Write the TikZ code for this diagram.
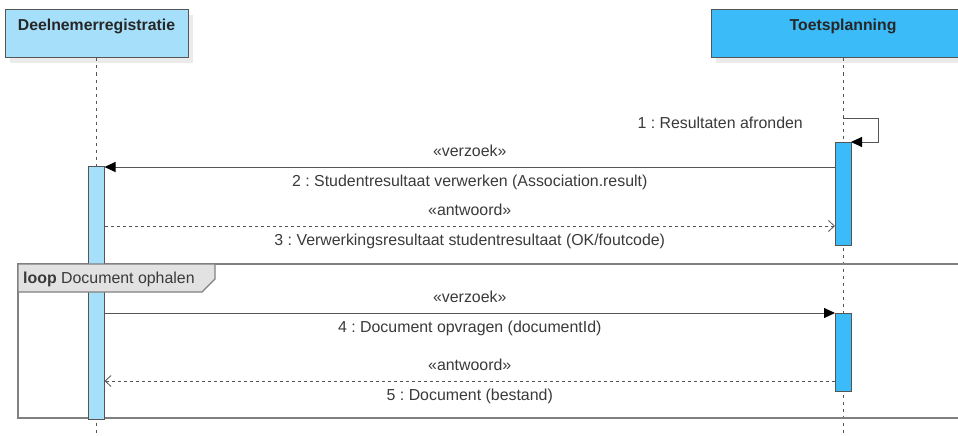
\documentclass[tikz,border=0pt]{standalone}
\usepackage{fontspec}
\setmainfont{Liberation Sans}
\usetikzlibrary{arrows.meta,positioning,shadows}
\definecolor{lichtblauw}{HTML}{A6DFFA}
\definecolor{blauw}{HTML}{3BBBF7}
\definecolor{lijngrijs}{HTML}{555555}
\definecolor{kadergrijs}{HTML}{808080}
\definecolor{tabgrijs}{HTML}{E2E2E2}
\definecolor{tekstgrijs}{HTML}{3A3A3A}
\frenchspacing
\begin{document}
\begin{tikzpicture}[x=1pt, y=-1pt,
        >=latex,   % default arrow tips
        font=\fontsize{15.9}{18}\selectfont\color{tekstgrijs},
        kop/.style={draw=lijngrijs, line width=1pt, minimum width=183pt, inner xsep=0pt, inner ysep=5pt,
            text height=15.5pt, text depth=22.5pt, font=\fontsize{15.8}{18}\selectfont\bfseries\color{black!85},
            drop shadow={shadow xshift=5pt, shadow yshift=-5pt, fill=black!8, opacity=1}},
        levenslijn/.style={draw=lijngrijs, line width=0.8pt, dash pattern=on 3pt off 4pt},
        activatie/.style={draw=lijngrijs, line width=0.8pt, minimum width=16pt, inner sep=0pt, outer sep=0pt},
        verzoek/.style={draw=lijngrijs, line width=1pt, -{Triangle[length=11pt, width=10pt, color=black]}},
        antwoord/.style={draw=lijngrijs, line width=0.8pt, dash pattern=on 3pt off 3pt,
            -{Straight Barb[length=6pt, width=11pt, line width=0.8pt]}},
        boven/.style={midway, anchor=base, inner sep=0pt, yshift=11pt},
        onder/.style={midway, anchor=base, inner sep=0pt, yshift=-19pt},
        kader/.style={draw=kadergrijs, line width=1.5pt}]
    \useasboundingbox (0,0) rectangle (958,436);
    % Deelnemers
    \node[kop, fill=lichtblauw] (dr) at (96.5,34) {Deelnemerregistratie};
    \node[kop, fill=blauw, minimum width=264pt] (tp) at (843,34) {Toetsplanning};
    % Levenslijnen
    \coordinate (drEinde) at (96.5,436);
    \coordinate (tpEinde) at (843,436);
    \draw[levenslijn] (dr.south) -- (drEinde);
    \draw[levenslijn] (tp.south) -- (tpEinde);
    % Loop-kader
    \draw[kader] (18,264) rectangle (975,418);
    % Activaties
    \node[activatie, fill=lichtblauw, minimum height=253pt] (actDR) at (96.5,292.5) {};
    \node[activatie, fill=blauw, minimum height=103pt] (actTP1) at (843,193.5) {};
    \node[activatie, fill=blauw, minimum height=78pt] (actTP2) at (843,352) {};
    % Loop-label
    \draw[kader, line width=1.2pt, fill=tabgrijs] (18,264) -- (215,264) -- (215,279) -- (202,292) -- (18,292) -- cycle;
    \node[anchor=base west, inner sep=0pt] (lus) at (23,283) {\textbf{loop} Document ophalen};
    % Berichten
    \coordinate (zelfStart) at (843,118);
    \draw[verzoek] (zelfStart) -- (878,118) -- (878,142) -- (actTP1.north east);
    \node[anchor=base east, inner sep=0pt] (m1) at (803,128) {1 : Resultaten afronden};
    \draw[verzoek] (actTP1.west |- 0,167) -- (actDR.east |- 0,167)
        node[boven] (s2) {«verzoek»}
        node[onder] (m2) {2 : Studentresultaat verwerken (Association.result)};
    \draw[antwoord] (actDR.east |- 0,226) -- (actTP1.west |- 0,226)
        node[boven] (s3) {«antwoord»}
        node[onder] (m3) {3 : Verwerkingsresultaat studentresultaat (OK/foutcode)};
    \draw[verzoek] (actDR.east |- 0,313) -- (actTP2.west |- 0,313)
        node[boven] (s4) {«verzoek»}
        node[onder] (m4) {4 : Document opvragen (documentId)};
    \draw[antwoord] (actTP2.west |- 0,381) -- (actDR.east |- 0,381)
        node[boven] (s5) {«antwoord»}
        node[onder] (m5) {5 : Document (bestand)};
\end{tikzpicture}
\end{document}
